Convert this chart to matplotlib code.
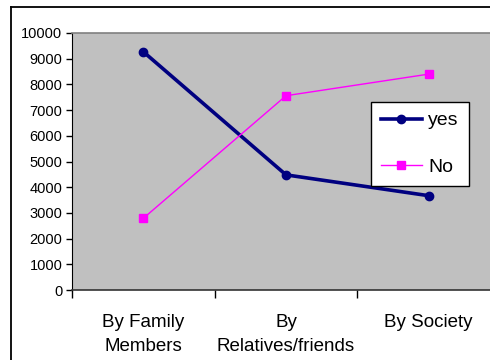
import matplotlib
matplotlib.use("Agg")
import matplotlib.pyplot as plt
from matplotlib.lines import Line2D

categories = ["By Family\nMembers", "By\nRelatives/friends", "By Society"]
yes_vals = [9270, 4480, 3670]
no_vals = [2790, 7560, 8400]
y_ticks = list(range(0, 10001, 1000))

plt.rcParams["font.family"] = ["Liberation Sans", "DejaVu Sans"]

W, H = 490, 360
fig = plt.figure(figsize=(W / 100, H / 100), dpi=100)

# outer chart border (only left and top visible in the crop)
fig.add_artist(Line2D([11 / W, 11 / W], [0, 1 - 6.5 / H], transform=fig.transFigure, color="black", lw=1.3))
fig.add_artist(Line2D([11 / W, 1], [1 - 6.5 / H, 1 - 6.5 / H], transform=fig.transFigure, color="black", lw=1.3))

left, right, top, bottom = 72, 500, 33, 290
ax = fig.add_axes([left / W, 1 - bottom / H, (right - left) / W, (bottom - top) / H])
ax.set_facecolor("#C0C0C0")

x = range(len(categories))
ax.plot(x, yes_vals, color="#000080", lw=2.6, marker="o", ms=6, label="yes", clip_on=False)
ax.plot(x, no_vals, color="#FF00FF", lw=1.0, marker="s", ms=6, label="No", clip_on=False)

ax.set_xlim(-0.5, 2.5)
ax.set_ylim(0, 10000)
ax.set_yticks(y_ticks)
ax.set_yticklabels([str(v) for v in y_ticks], fontsize=10.5)
ax.set_xticks([-0.5, 0.5, 1.5, 2.5])
ax.set_xticklabels([])
ax.set_xticks(list(x), minor=True)
ax.set_xticklabels(categories, minor=True, fontsize=13.5, linespacing=1.6)
ax.tick_params(axis="x", which="minor", length=0, pad=17)
ax.tick_params(axis="x", which="major", length=6, width=1, direction="out")
ax.tick_params(axis="y", length=4, width=1, direction="out", pad=3)

ax.spines["top"].set_color("#808080")
ax.spines["top"].set_linewidth(1.2)
ax.spines["right"].set_visible(False)
ax.spines["left"].set_color("black")
ax.spines["bottom"].set_color("#333333")
ax.spines["bottom"].set_linewidth(1.2)

leg = ax.legend(loc="upper left", bbox_to_anchor=((371 - left) / (right - left), 1 - (102 - top) / (bottom - top)),
                fontsize=14, frameon=True, fancybox=False, edgecolor="black", framealpha=1,
                handlelength=2.1, labelspacing=1.5, borderpad=0.5, handletextpad=0.35,
                borderaxespad=0)
leg.get_frame().set_linewidth(1.0)

fig.savefig("out.png", dpi=100)
